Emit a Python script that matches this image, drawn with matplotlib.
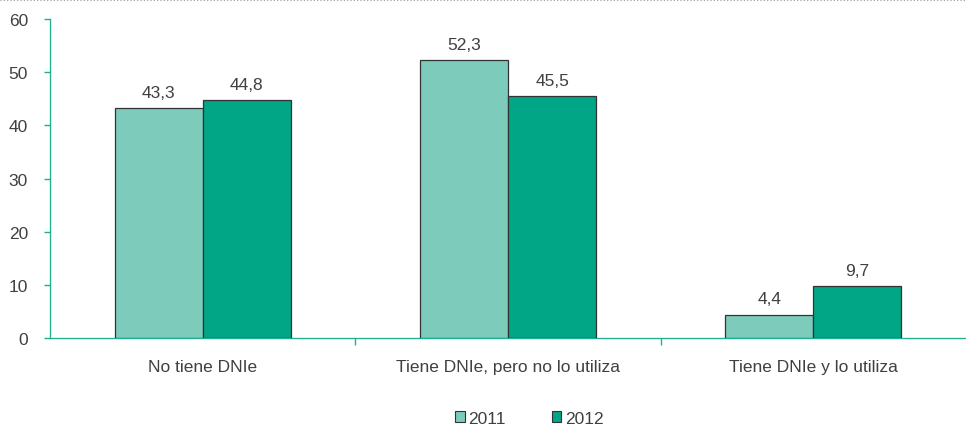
import matplotlib.pyplot as plt
import matplotlib.lines as mlines
import numpy as np

plt.rcParams['font.family'] = ['Liberation Sans', 'DejaVu Sans']

categories = ['No tiene DNIe', 'Tiene DNIe, pero no lo utiliza', 'Tiene DNIe y lo utiliza']
years = ['2011', '2012']
values_2011 = [43.3, 52.3, 4.4]
values_2012 = [44.8, 45.5, 9.7]
colors = ['#7dcbbb', '#00a685']
text_color = '#404040'
axis_color = '#1fb08f'
fs = 12.5

fig = plt.figure(figsize=(9.66, 4.27), dpi=100)
ax = fig.add_axes([0.052, 0.206, 0.948, 0.747])

x = np.arange(len(categories))
width = 0.288
for i, (vals, col, yr) in enumerate(zip([values_2011, values_2012], colors, years)):
    pos = x + (i - 0.5) * width
    bars = ax.bar(pos, vals, width, color=col, edgecolor='#333333', linewidth=0.9, label=yr, zorder=3)
    for b, v in zip(bars, vals):
        ax.annotate(f'{v:.1f}'.replace('.', ','), (b.get_x() + b.get_width() / 2, v),
                    xytext=(0, 6), textcoords='offset points', ha='center', va='bottom',
                    fontsize=fs, color=text_color)

ax.set_xlim(-0.5, 2.5)
ax.set_ylim(0, 60)
ax.set_yticks(range(0, 61, 10))
ax.set_xticks([0.5, 1.5])
ax.set_xticklabels([])
ax.set_xticks(x, minor=True)
ax.set_xticklabels(categories, minor=True)
ax.tick_params(axis='x', which='minor', length=0, pad=15, labelsize=fs, labelcolor=text_color)
ax.tick_params(axis='x', which='major', length=5, width=1, color=axis_color, direction='out')
ax.tick_params(axis='y', length=4, width=1, color=axis_color, direction='out', pad=12,
               labelsize=fs, labelcolor=text_color)

for side in ['top', 'right']:
    ax.spines[side].set_visible(False)
for side in ['left', 'bottom']:
    ax.spines[side].set_color(axis_color)
    ax.spines[side].set_linestyle((0, (1, 0.6)))
    ax.spines[side].set_linewidth(0.9)

# dotted border along the top edge
fig.add_artist(mlines.Line2D([0, 1], [0.998, 0.998], transform=fig.transFigure,
                             color='#999999', linewidth=0.8, linestyle=(0, (1, 2))))

leg = fig.legend(loc='center', bbox_to_anchor=(0.548, 0.018), ncol=2, frameon=False,
                 handlelength=0.55, handleheight=0.55, handletextpad=0.2, columnspacing=2.65,
                 fontsize=fs)
for t in leg.get_texts():
    t.set_color(text_color)
for h in leg.legend_handles:
    h.set_linewidth(0.8)

fig.savefig('out.png', dpi=100)
